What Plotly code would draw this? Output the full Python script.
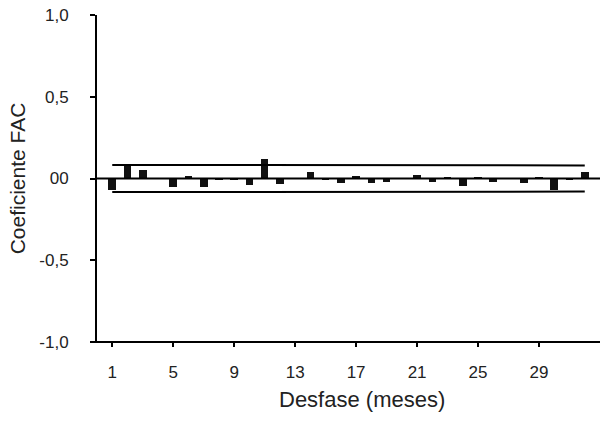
import plotly.graph_objects as go

lags = list(range(1, 33))
acf = [-0.07, 0.075, 0.05, 0.0, -0.05, 0.015, -0.05, -0.01, -0.005, -0.04,
       0.12, -0.035, 0.0, 0.04, -0.005, -0.03, 0.015, -0.025, -0.02, 0.0,
       0.02, -0.02, 0.008, -0.048, 0.008, -0.02, 0.0, -0.025, 0.008, -0.07,
       -0.005, 0.04]
band_upper = [0.083] * 9 + [0.080] * 23
band_lower = [-b for b in band_upper]

ytick_vals = [-1.0, -0.5, 0.0, 0.5, 1.0]
ytick_text = ["-1,0", "-0,5", "00", "0,5", "1,0"]
xtick_vals = [1, 5, 9, 13, 17, 21, 25, 29]

font_color = "#222222"

fig = go.Figure()
fig.add_trace(go.Bar(x=lags, y=acf, width=0.5,
                     marker=dict(color="#111111", line=dict(width=0)),
                     showlegend=False))
fig.add_trace(go.Scatter(x=lags, y=band_upper, mode="lines",
                         line=dict(color="black", width=2), showlegend=False))
fig.add_trace(go.Scatter(x=lags, y=band_lower, mode="lines",
                         line=dict(color="black", width=2), showlegend=False))

fig.add_shape(type="line", xref="paper", yref="y", x0=0, x1=1, y0=0, y1=0,
              line=dict(color="black", width=2))
fig.add_shape(type="line", xref="paper", yref="paper", x0=-0.01, x1=1, y0=0, y1=0,
              line=dict(color="black", width=2))

fig.update_layout(
    width=600, height=425,
    margin=dict(l=97, r=0, t=15, b=83),
    paper_bgcolor="white", plot_bgcolor="white",
    font=dict(family="Liberation Sans, Arial, sans-serif", color=font_color, size=17),
    bargap=0,
)
fig.update_xaxes(range=[0, 33], tickvals=xtick_vals, ticks="outside", ticklen=4,
                 tickwidth=1.5, tickcolor="black", showgrid=False, zeroline=False,
                 showline=False, ticklabelstandoff=11, tickfont=dict(size=17))
fig.update_yaxes(range=[-1, 1], tickvals=ytick_vals, ticktext=ytick_text,
                 ticks="outside", ticklen=5, tickwidth=1.5, tickcolor="black",
                 showgrid=False, zeroline=False, showline=True, linecolor="black",
                 linewidth=2, ticklabelstandoff=18, tickfont=dict(size=17),
                 title=dict(text="Coeficiente FAC", font=dict(size=21), standoff=8))

fig.add_annotation(text="Desfase (meses)", xref="paper", yref="paper",
                   x=0.527, y=-0.177, xanchor="center", yanchor="middle",
                   showarrow=False, font=dict(size=22, color=font_color))

fig.write_html("out.html", config={"displayModeBar": False},
               post_script="document.body.style.margin='0';")
